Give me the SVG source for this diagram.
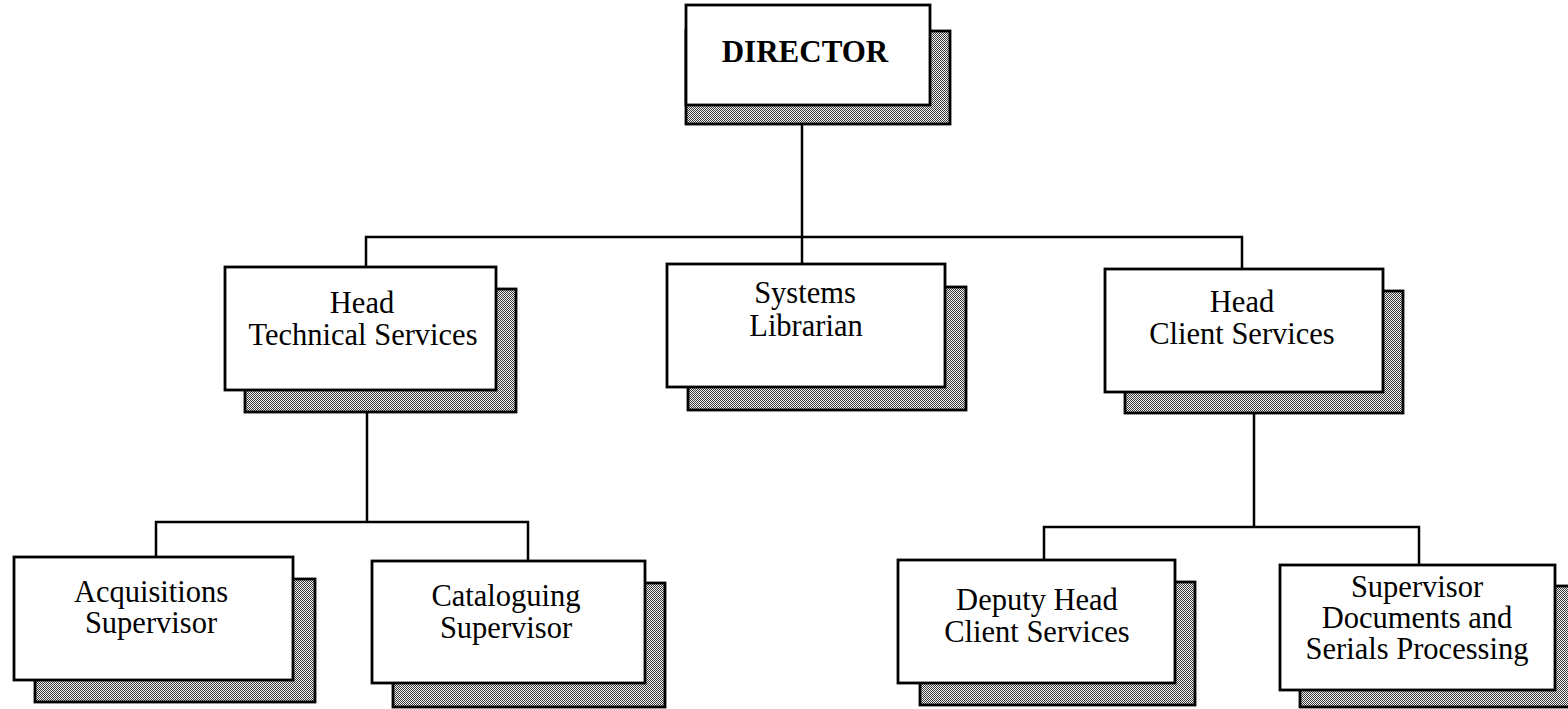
<svg xmlns="http://www.w3.org/2000/svg" width="1568" height="709" viewBox="0 0 1568 709">
<style>
.box{fill:#fff;stroke:#000;stroke-width:2.8}
.shadow{fill:url(#dots);stroke:#000;stroke-width:2.8}
.lbl{font-family:"Liberation Serif","Times New Roman",serif;font-size:30.5px;fill:#000;text-anchor:middle}
.bold{font-weight:bold;font-size:31px}
.conn{stroke:#000;stroke-width:2.5;fill:none}
</style>
<defs>
<pattern id="dots" width="2" height="2" patternUnits="userSpaceOnUse">
<rect width="2" height="2" fill="#f2f2f2"/>
<rect x="0" y="0" width="1" height="1" fill="#3a3a3a"/>
<rect x="1" y="1" width="1" height="1" fill="#3a3a3a"/>
</pattern>
</defs>
<rect width="1568" height="709" fill="#fff"/>
<g id="connectors">
<path class="conn" d="M802 105 V264"/>
<path class="conn" d="M366 267 V237 H1242 V270"/>
<path class="conn" d="M367 390 V522"/>
<path class="conn" d="M156 557 V522 H528 V561"/>
<path class="conn" d="M1254 392 V527"/>
<path class="conn" d="M1044 560 V527 H1419 V565"/>
</g>
<g id="director">
<rect class="shadow" x="686" y="31" width="264" height="93"/>
<rect class="box" x="686" y="5" width="244" height="100"/>
<text class="lbl bold" x="805" y="62">DIRECTOR</text>
</g>
<g id="head-technical">
<rect class="shadow" x="245" y="289" width="271" height="123"/>
<rect class="box" x="225" y="267" width="271" height="123"/>
<text class="lbl" x="362" y="313">Head</text>
<text class="lbl" x="363" y="345">Technical Services</text>
</g>
<g id="systems-librarian">
<rect class="shadow" x="688" y="287" width="278" height="123"/>
<rect class="box" x="667" y="264" width="278" height="123"/>
<text class="lbl" x="805" y="303">Systems</text>
<text class="lbl" x="806" y="336">Librarian</text>
</g>
<g id="head-client">
<rect class="shadow" x="1125" y="291" width="278" height="122"/>
<rect class="box" x="1105" y="269" width="278" height="123"/>
<text class="lbl" x="1242" y="312">Head</text>
<text class="lbl" x="1242" y="344">Client Services</text>
</g>
<g id="acquisitions">
<rect class="shadow" x="35" y="579" width="280" height="123"/>
<rect class="box" x="14" y="557" width="279" height="123"/>
<text class="lbl" x="151" y="602">Acquisitions</text>
<text class="lbl" x="151" y="633">Supervisor</text>
</g>
<g id="cataloguing">
<rect class="shadow" x="393" y="583" width="272" height="124"/>
<rect class="box" x="372" y="561" width="273" height="122"/>
<text class="lbl" x="506" y="606">Cataloguing</text>
<text class="lbl" x="506" y="638">Supervisor</text>
</g>
<g id="deputy-head">
<rect class="shadow" x="920" y="582" width="275" height="123"/>
<rect class="box" x="898" y="560" width="277" height="123"/>
<text class="lbl" x="1037" y="610">Deputy Head</text>
<text class="lbl" x="1037" y="642">Client Services</text>
</g>
<g id="supervisor-docs">
<rect class="shadow" x="1300" y="586" width="275" height="121"/>
<rect class="box" x="1280" y="565" width="275" height="125"/>
<text class="lbl" x="1417" y="597">Supervisor</text>
<text class="lbl" x="1417" y="628">Documents and</text>
<text class="lbl" x="1417" y="659">Serials Processing</text>
</g>
</svg>
